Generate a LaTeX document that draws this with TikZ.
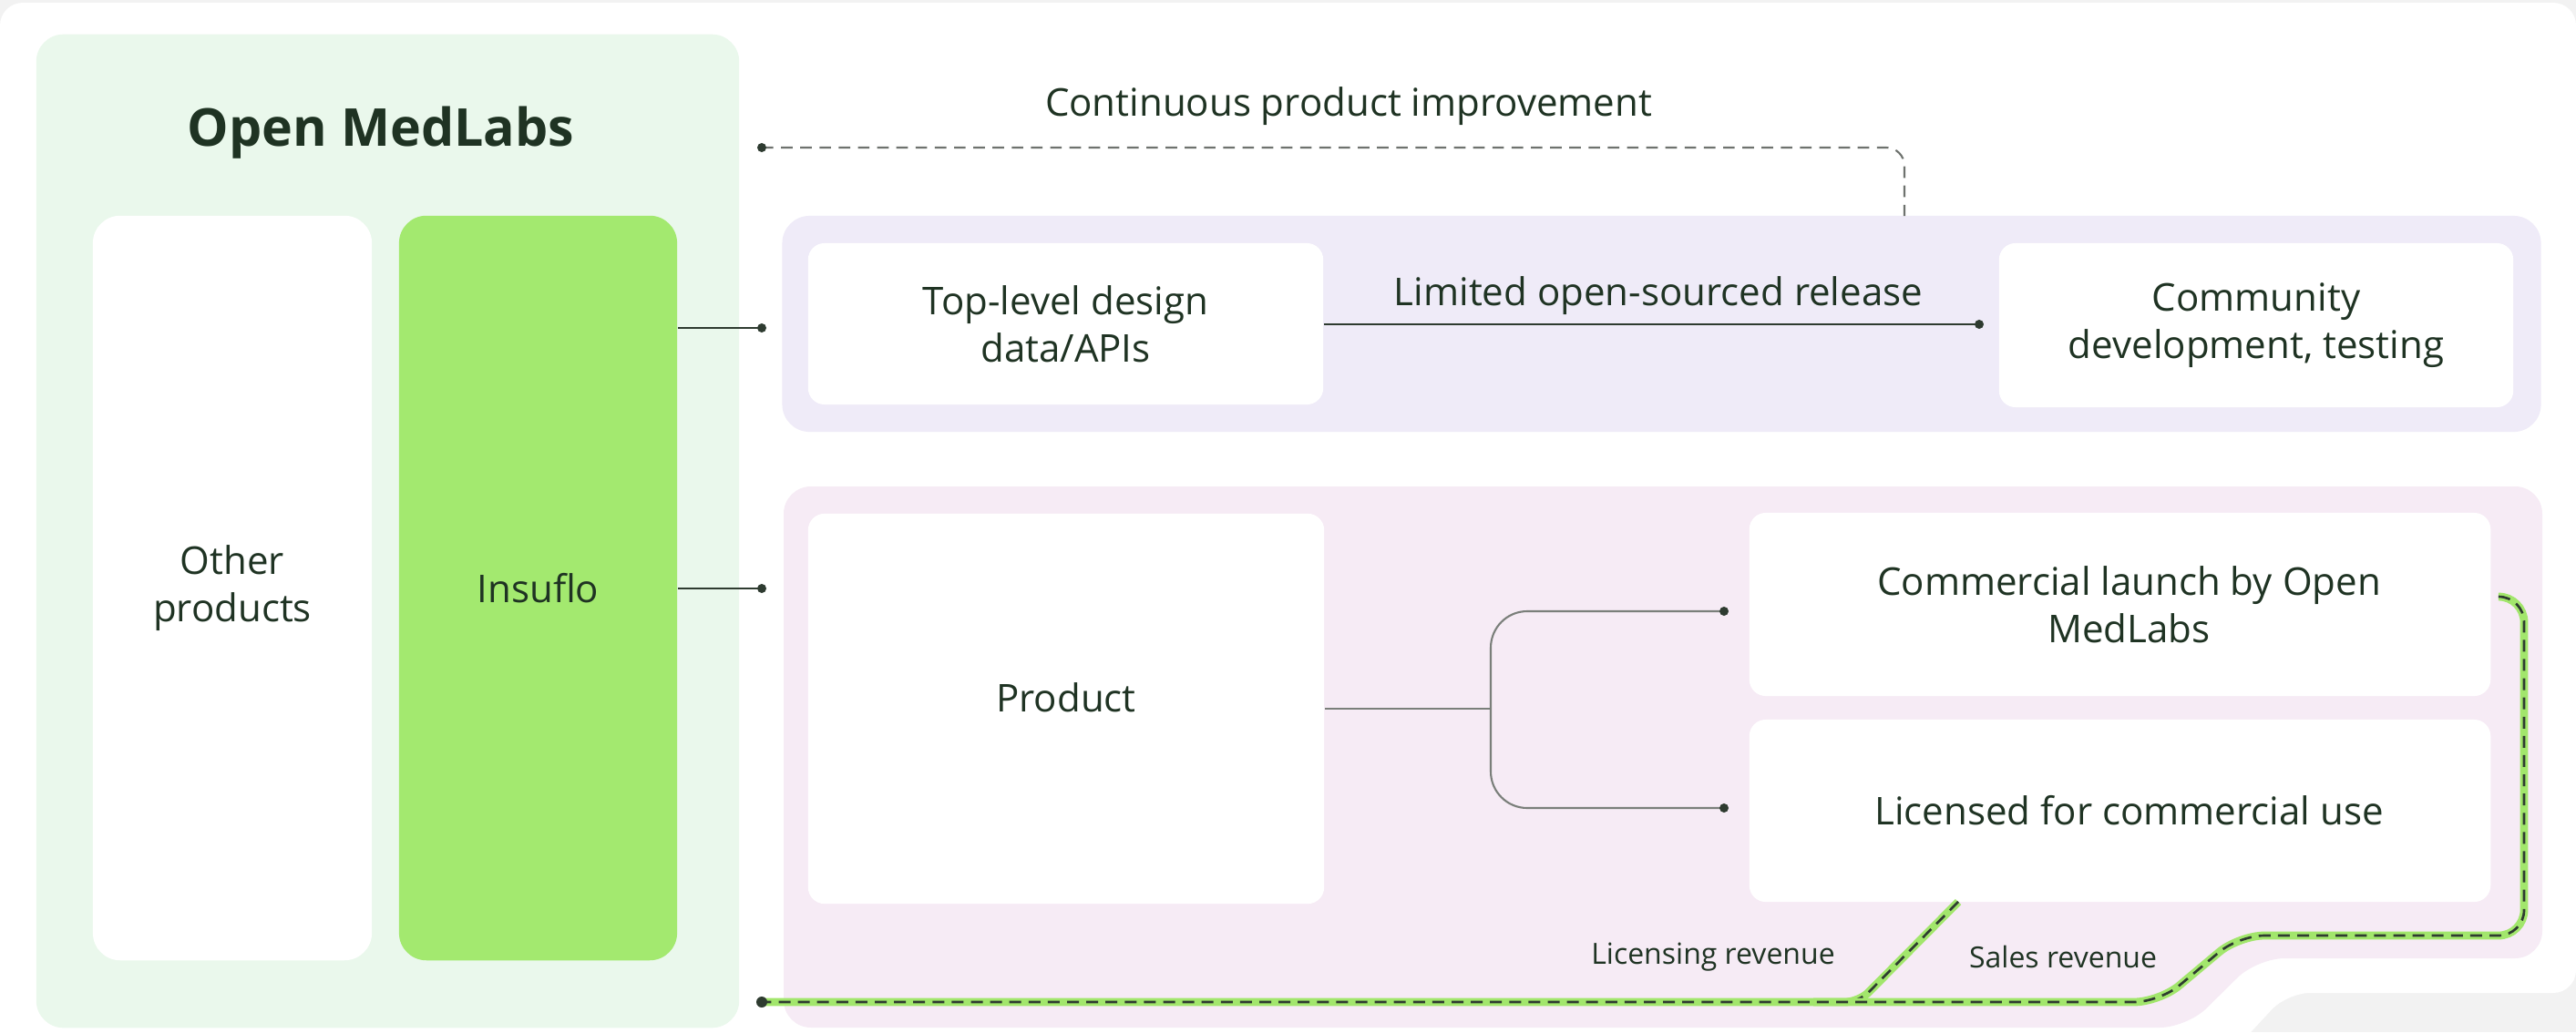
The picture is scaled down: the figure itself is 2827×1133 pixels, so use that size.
\documentclass[tikz,border=0pt]{standalone}
\usepackage{fontspec}
\setmainfont{Open Sans}
\definecolor{pagegray}{HTML}{F2F2F2}
\definecolor{medgreen}{HTML}{EAF8EC}
\definecolor{insgreen}{HTML}{A3E96F}
\definecolor{lilac}{HTML}{EFEBF8}
\definecolor{pinkbg}{HTML}{F6EBF5}
\definecolor{ink}{HTML}{1F3323}
\definecolor{linedark}{HTML}{2E3B30}
\definecolor{linegray}{HTML}{7A7F7A}
\definecolor{revgreen}{HTML}{A2E66C}
\newcommand\mainfs{\fontsize{11.95pt}{14.8pt}\selectfont}
\newcommand\smallfs{\fontsize{9.1pt}{11pt}\selectfont}
\newcommand\titlefs{\fontsize{16.3pt}{20pt}\selectfont\bfseries}
\tikzset{
  panelbox/.style={rectangle, rounded corners=0.3cm, inner sep=0pt, draw=none},
  bigbox/.style={rectangle, rounded corners=0.3cm, inner sep=0pt, align=center, font=\mainfs, text=ink},
  stepbox/.style={rectangle, rounded corners=0.18cm, fill=white, inner sep=0pt, align=center, font=\mainfs, text=ink},
  conn/.style={draw=linedark, line width=0.6pt},
  connfaint/.style={draw=linegray, line width=0.6pt},
  dashconn/.style={draw=linegray!90!black, line width=0.6pt, dash pattern=on 3.6pt off 2.4pt},
  revline/.style={draw=linedark, line width=0.75pt, dash pattern=on 3.7pt off 2.3pt,
     preaction={draw=revgreen, line width=2.5pt, solid}},
  lbl/.style={font=\mainfs, text=ink, inner sep=0pt},
  smalllbl/.style={font=\smallfs, text=ink, inner sep=0pt}
}
\begin{document}
\begin{tikzpicture}[x=0.01cm, y=-0.01cm]
\useasboundingbox (0,0) rectangle (2827,1133);
% page background and white sheet
\fill[pagegray] (0,0) rectangle (2827,1133);
\fill[white, rounded corners=0.25cm] (0,1160) -- (0,3) -- (2827,3) -- (2827,1090) -- (2510,1090) -- (2445,1160) -- cycle;

% Open MedLabs panel
\node[panelbox, fill=medgreen, minimum width=7.71cm, minimum height=10.9cm] (oml) at (425.5,583) {};
\node[font=\titlefs, text=ink, anchor=base, inner sep=0pt] (title) at (418,160) {Open MedLabs};
\node[bigbox, fill=white, minimum width=3.06cm, minimum height=8.17cm] (other) at (255,645.5) {Other\\products};
\node[bigbox, fill=insgreen, minimum width=3.05cm, minimum height=8.17cm] (ins) at (590.5,645.5) {Insuflo};

% purple panel
\node[panelbox, fill=lilac, minimum width=19.29cm, minimum height=2.37cm] (purple) at (1823.5,355.5) {};
% pink panel (with notch)
\fill[pinkbg, rounded corners=0.3cm] (860,534) -- (2790,534) -- (2790,1052) -- (2477,1052) -- (2400,1128) -- (860,1128) -- cycle;

% boxes
\node[stepbox, minimum width=5.65cm, minimum height=1.77cm] (top) at (1169.5,355.5) {Top-level design\\data/APIs};
\node[stepbox, minimum width=5.64cm, minimum height=1.80cm] (comm) at (2476,357) {Community\\development, testing};
\node[stepbox, minimum width=5.66cm, minimum height=4.28cm] (prod) at (1170,778) {\raisebox{0.25cm}{Product}};
\node[stepbox, minimum width=8.13cm, minimum height=2.01cm] (launch) at (2326.5,663.5) {\hspace*{0.2cm}Commercial launch by Open\\\hspace*{0.2cm}MedLabs};
\node[stepbox, minimum width=8.13cm, minimum height=2.00cm] (lic) at (2326.5,890) {\hspace*{0.2cm}Licensed for commercial use};

% continuous product improvement
\node[lbl, anchor=base] (cpilbl) at (1480,127) {Continuous product improvement};
\coordinate (cpi) at (836,162);
\coordinate (cpiend) at (2090,237);
\draw[dashconn, rounded corners=0.2cm] (cpi) -| (cpiend);
\fill[linedark] (cpi) circle (0.05cm);

% Insuflo connectors
\coordinate (dtop) at (836,360);
\coordinate (dprod) at (836,646);
\draw[conn] (ins.east |- dtop) -- (dtop);
\draw[conn] (ins.east |- dprod) -- (dprod);
\fill[linedark] (dtop) circle (0.05cm);
\fill[linedark] (dprod) circle (0.05cm);

% limited open-sourced release
\coordinate (drel) at (2172,356);
\draw[conn] (top.east |- drel) -- (drel);
\fill[linedark] (drel) circle (0.05cm);
\node[lbl, anchor=base] (rellbl) at (1820,335) {Limited open-sourced release};

% product branches
\coordinate (fork) at (1636,778);
\coordinate (dlaunch) at (1892,671);
\coordinate (dlic) at (1892,887);
\draw[connfaint] (prod.east) -- (prod.east -| fork);
\draw[connfaint, rounded corners=0.4cm] (dlaunch) -- (dlaunch -| fork) -- (dlic -| fork) -- (dlic);
\fill[linedark] (dlaunch) circle (0.05cm);
\fill[linedark] (dlic) circle (0.05cm);

% revenue lines
\coordinate (rev) at (836,1100);
\coordinate (licstart) at (2149,990);
\coordinate (salestart) at (2742,655);
\draw[revline, rounded corners=0.15cm] (licstart) -- (2040,1100) -- (1990,1100);
\draw[revline, rounded corners=0.28cm] (salestart) -- (2770,655) -- (2770,1027) -- (2457,1027) -- (2370,1100) -- (rev);
\fill[linedark] (rev) circle (0.06cm);
\node[smalllbl, anchor=base] (licrev) at (1880,1058) {Licensing revenue};
\node[smalllbl, anchor=base] (salesrev) at (2264,1062) {Sales revenue};
\end{tikzpicture}
\end{document}
